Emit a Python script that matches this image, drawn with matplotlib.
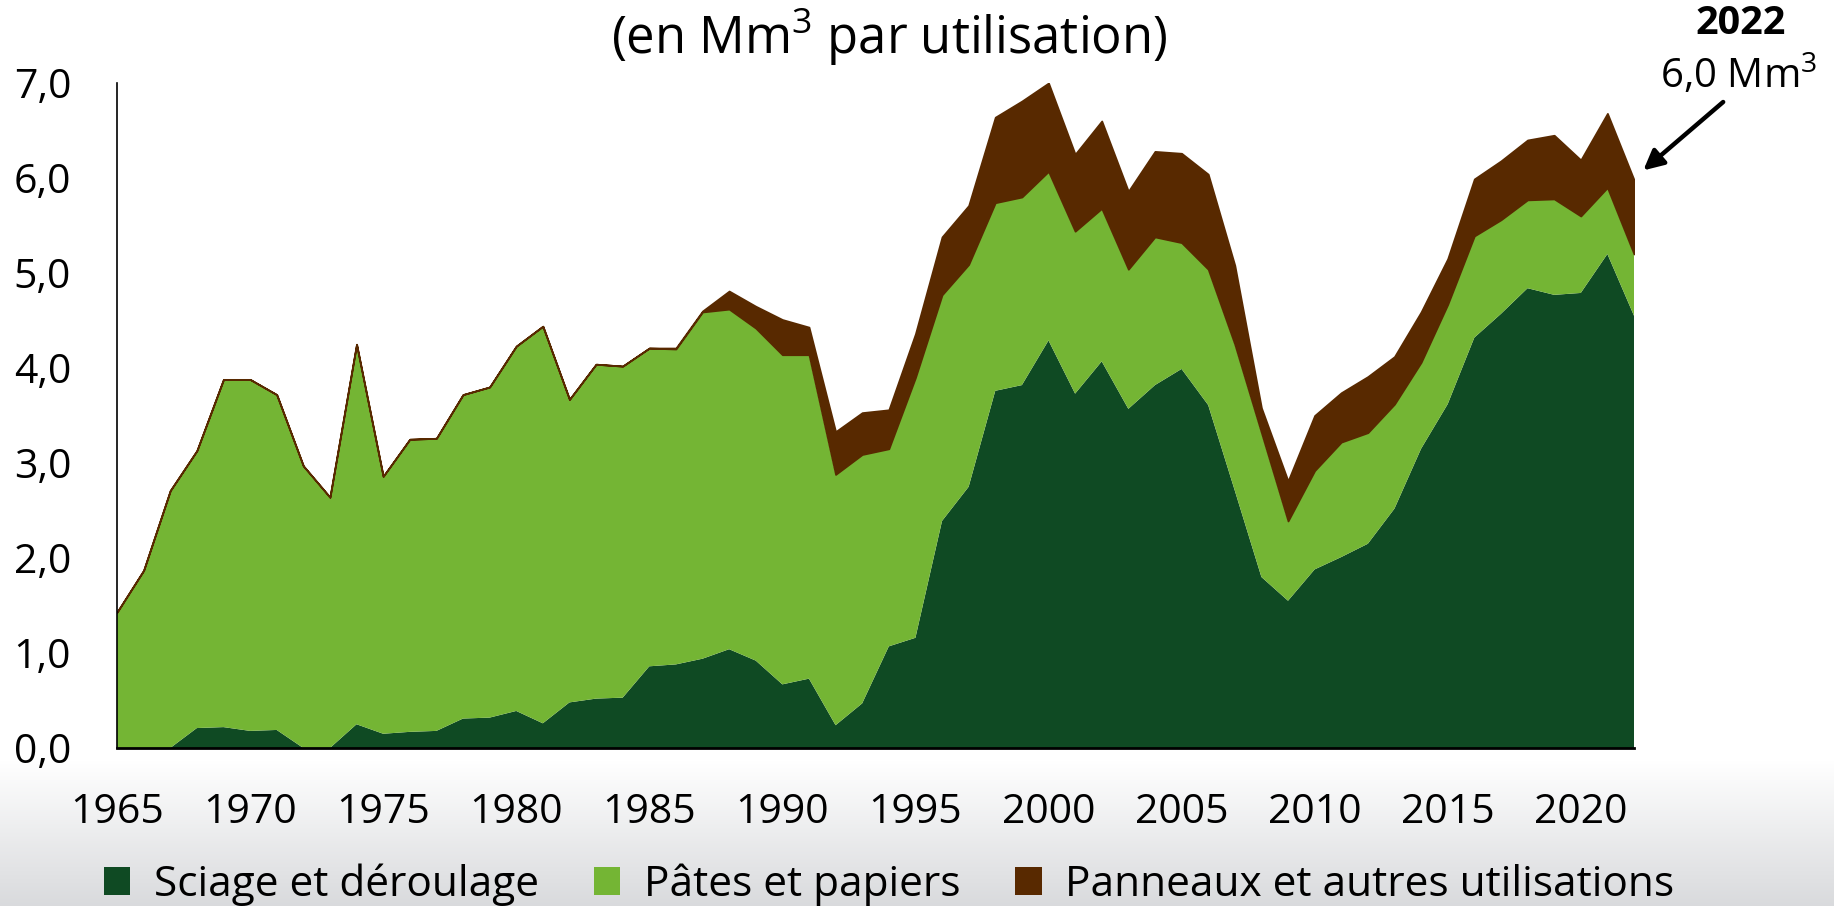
import numpy as np
import matplotlib
matplotlib.use("Agg")
import matplotlib.pyplot as plt
from matplotlib.patches import Patch

plt.rcParams['font.family'] = ['Open Sans', 'DejaVu Sans']
plt.rcParams['mathtext.fontset'] = 'custom'
plt.rcParams['mathtext.rm'] = 'Open Sans'
plt.rcParams['mathtext.it'] = 'Open Sans:italic'
plt.rcParams['mathtext.bf'] = 'Open Sans:bold'

years = list(range(1965, 2023))
sciage = [0.00, 0.00, 0.00, 0.21, 0.22, 0.18, 0.19, 0.00, 0.00, 0.25,
          0.15, 0.17, 0.18, 0.31, 0.32, 0.39, 0.26, 0.48, 0.52, 0.53,
          0.86, 0.88, 0.94, 1.04, 0.92, 0.67, 0.73, 0.24, 0.47, 1.07,
          1.16, 2.39, 2.75, 3.76, 3.82, 4.29, 3.73, 4.07, 3.57, 3.82,
          3.99, 3.61, 2.71, 1.80, 1.55, 1.88, 2.01, 2.15, 2.52, 3.15,
          3.62, 4.32, 4.57, 4.84, 4.77, 4.79, 5.20, 4.55]
pates = [1.43, 1.87, 2.71, 2.92, 3.66, 3.70, 3.53, 2.97, 2.64, 4.00,
         2.71, 3.08, 3.08, 3.41, 3.48, 3.84, 4.18, 3.19, 3.52, 3.49,
         3.35, 3.32, 3.65, 3.58, 3.50, 3.47, 3.41, 2.64, 2.62, 2.08,
         2.74, 2.38, 2.34, 1.98, 1.98, 1.78, 1.71, 1.61, 1.47, 1.56,
         1.33, 1.43, 1.54, 1.52, 0.84, 1.04, 1.21, 1.17, 1.10, 0.91,
         1.05, 1.07, 0.99, 0.93, 1.01, 0.81, 0.70, 0.65]
panneaux = [0.00, 0.00, 0.00, 0.00, 0.00, 0.00, 0.00, 0.00, 0.00, 0.00,
            0.00, 0.00, 0.00, 0.00, 0.00, 0.00, 0.00, 0.00, 0.00, 0.00,
            0.00, 0.01, 0.01, 0.19, 0.23, 0.37, 0.29, 0.45, 0.44, 0.41,
            0.46, 0.61, 0.62, 0.90, 1.01, 0.93, 0.81, 0.92, 0.82, 0.90,
            0.94, 1.00, 0.83, 0.26, 0.42, 0.58, 0.52, 0.59, 0.50, 0.53,
            0.48, 0.60, 0.62, 0.63, 0.67, 0.59, 0.78, 0.78]

series_labels = ["Sciage et déroulage", "Pâtes et papiers", "Panneaux et autres utilisations"]
colors = ["#0f4a23", "#74b534", "#582900"]
yticks = [0, 1, 2, 3, 4, 5, 6, 7]
ytick_labels = ["0,0", "1,0", "2,0", "3,0", "4,0", "5,0", "6,0", "7,0"]
xticks = [1965, 1970, 1975, 1980, 1985, 1990, 1995, 2000, 2005, 2010, 2015, 2020]

W, H = 1834, 906
fig = plt.figure(figsize=(W / 100, H / 100), dpi=100)

# bottom gradient background
bg = fig.add_axes([0, 0, 1, 1], zorder=-10)
bg.set_axis_off()
rows = np.arange(H)
t = np.clip((rows - 760) / (H - 760), 0, 1)
top_c = np.array([1.0, 1.0, 1.0])
bot_c = np.array([0.850, 0.855, 0.865])
grad = top_c[None, :] * (1 - t[:, None]) + bot_c[None, :] * t[:, None]
img = np.repeat(grad[:, None, :], 4, axis=1)
bg.imshow(img, aspect='auto', extent=[0, 1, 0, 1], origin='upper')
bg.set_xlim(0, 1)
bg.set_ylim(0, 1)

x0, x1 = 117, 1634
y0, y1 = 748, 83
ax = fig.add_axes([x0 / W, (H - y0) / H, (x1 - x0) / W, (y0 - y1) / H])
ax.set_facecolor('none')

polys = ax.stackplot(years, sciage, pates, panneaux, colors=colors,
                     labels=series_labels, linewidth=0)
polys[2].set_edgecolor(colors[2])
polys[2].set_linewidth(1.3)

ax.set_xlim(1965, 2022)
ax.set_ylim(0, 7)
ax.set_yticks(yticks)
ax.set_yticklabels(ytick_labels)
ax.set_xticks(xticks)
ax.set_xticklabels([str(v) for v in xticks])
ax.tick_params(axis='both', length=0, labelsize=29.5, colors='black')
ax.tick_params(axis='y', pad=33)
ax.tick_params(axis='x', pad=32)
for s in ['top', 'right']:
    ax.spines[s].set_visible(False)
ax.spines['left'].set_linewidth(1.2)
ax.spines['bottom'].set_linewidth(2.0)
ax.spines['left'].set_color('black')
ax.spines['bottom'].set_color('black')
ax.spines['bottom'].set_zorder(5)

# title
fig.text(889 / W, 1 - 37 / H, r"(en Mm$^{\mathregular{3}}$ par utilisation)", ha='center',
         va='center', fontsize=36.5, color='black')

# annotation
fig.text(1741 / W, 1 - 24 / H, "2022", ha='center', va='center', fontsize=28.5,
         fontweight='bold', color='black')
fig.text(1739 / W, 1 - 76 / H, r"6,0 Mm$^{\mathregular{3}}$", ha='center', va='center',
         fontsize=29, color='black')
ax.annotate("", xy=(2022.35, 6.08), xytext=(2025.35, 6.80),
            arrowprops=dict(arrowstyle='-|>', color='black', lw=3.2,
                            mutation_scale=30, shrinkA=0, shrinkB=0),
            annotation_clip=False)

handles = [Patch(facecolor=c, edgecolor='none') for c in colors]
fig.legend(handles, series_labels, loc='center', bbox_to_anchor=(889 / W, 1 - 885 / H),
           ncol=3, frameon=False, fontsize=30.5, handlelength=0.63, handleheight=0.63,
           handletextpad=0.55, columnspacing=1.3, borderaxespad=0, borderpad=0)

fig.savefig("out.png", dpi=100)
